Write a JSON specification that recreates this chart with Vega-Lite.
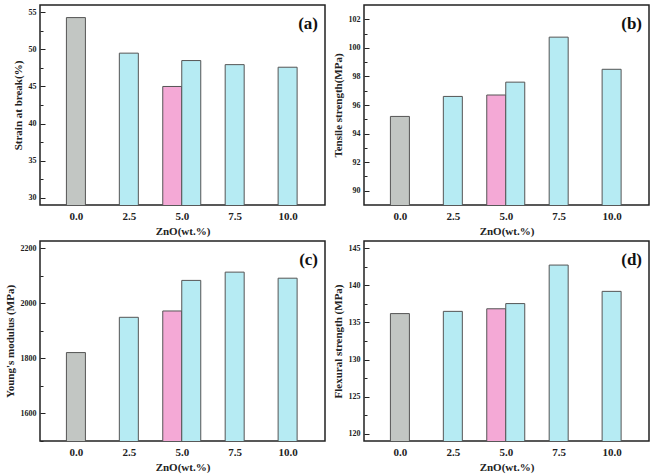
{
  "$schema": "https://vega.github.io/schema/vega-lite/v6.json",
  "padding": {"left": 3, "top": 4, "right": 5, "bottom": 5},
  "background": "white",
  "config": {
    "view": {"stroke": "#222", "strokeWidth": 1.5},
    "font": "Liberation Serif",
    "axis": {"labelFont": "Liberation Serif", "titleFont": "Liberation Serif", "labelFontWeight": "bold", "titleFontWeight": "bold", "labelColor": "#222", "titleColor": "#222", "grid": false, "domain": false, "tickColor": "#222"},
    "title": {"font": "Liberation Serif", "fontWeight": "bold", "fontSize": 17, "color": "#111"}
  },
  "datasets": {
    "props": [
      {"panel": "a", "ZnO": 0, "type": "neat", "value": 54.3},
      {"panel": "a", "ZnO": 2.5, "type": "cyan", "value": 49.5},
      {"panel": "a", "ZnO": 5, "type": "pink", "value": 45.0},
      {"panel": "a", "ZnO": 5, "type": "cyan", "value": 48.5},
      {"panel": "a", "ZnO": 7.5, "type": "cyan", "value": 47.95},
      {"panel": "a", "ZnO": 10, "type": "cyan", "value": 47.6},
      {"panel": "b", "ZnO": 0, "type": "neat", "value": 95.2},
      {"panel": "b", "ZnO": 2.5, "type": "cyan", "value": 96.6},
      {"panel": "b", "ZnO": 5, "type": "pink", "value": 96.7},
      {"panel": "b", "ZnO": 5, "type": "cyan", "value": 97.6},
      {"panel": "b", "ZnO": 7.5, "type": "cyan", "value": 100.75},
      {"panel": "b", "ZnO": 10, "type": "cyan", "value": 98.5},
      {"panel": "c", "ZnO": 0, "type": "neat", "value": 1821},
      {"panel": "c", "ZnO": 2.5, "type": "cyan", "value": 1949},
      {"panel": "c", "ZnO": 5, "type": "pink", "value": 1972},
      {"panel": "c", "ZnO": 5, "type": "cyan", "value": 2083},
      {"panel": "c", "ZnO": 7.5, "type": "cyan", "value": 2113},
      {"panel": "c", "ZnO": 10, "type": "cyan", "value": 2091},
      {"panel": "d", "ZnO": 0, "type": "neat", "value": 136.2},
      {"panel": "d", "ZnO": 2.5, "type": "cyan", "value": 136.5},
      {"panel": "d", "ZnO": 5, "type": "pink", "value": 136.85},
      {"panel": "d", "ZnO": 5, "type": "cyan", "value": 137.55},
      {"panel": "d", "ZnO": 7.5, "type": "cyan", "value": 142.75},
      {"panel": "d", "ZnO": 10, "type": "cyan", "value": 139.2}
    ]
  },
  "columns": 2,
  "bounds": "flush",
  "spacing": {"row": 36, "column": 39},
  "concat": [
        {
          "width": 285, "height": 200,
          "data": {"name": "props"},
          "title": {"text": "(a)", "anchor": "end", "frame": "group", "offset": -28, "dx": -7},
          "transform": [{"filter": "datum.panel == 'a'"}],
          "encoding": {
            "x": {"field": "ZnO", "type": "quantitative", "scale": {"domain": [-1.46, 11.53], "nice": false, "zero": false}, "axis": {"values": [0, 2.5, 5, 7.5, 10], "format": ".1f", "ticks": false, "labelPadding": 5, "labelFontSize": 11, "title": "ZnO(wt.%)", "titleFontSize": 11, "titlePadding": 4}},
            "y": {"field": "value", "type": "quantitative", "scale": {"domain": [29, 56], "nice": false, "zero": false}}
          },
          "layer": [
            {"transform": [{"filter": "datum.type != 'pink' && datum.ZnO != 5"}], "mark": {"type": "bar", "width": 19, "stroke": "#555", "strokeWidth": 1, "clip": true},
             "encoding": {"y": {"field": "value", "type": "quantitative", "axis": {"orient": "left", "values": [30, 35, 40, 45, 50, 55], "tickSize": -5, "labelPadding": 9, "labelFontSize": 8, "title": "Strain at break(%)", "titleFontSize": 11, "titlePadding": 5}},
                          "color": {"field": "type", "scale": {"domain": ["neat", "cyan", "pink"], "range": ["#c2c6c3", "#b6ebf3", "#f4a9d6"]}, "legend": null}}},
            {"transform": [{"filter": "datum.type == 'pink'"}], "mark": {"type": "bar", "width": 19, "stroke": "#555", "strokeWidth": 1, "clip": true, "xOffset": -9.5},
             "encoding": {"y": {"field": "value", "type": "quantitative", "axis": null}, "color": {"field": "type", "legend": null}}},
            {"transform": [{"filter": "datum.type == 'cyan' && datum.ZnO == 5"}], "mark": {"type": "bar", "width": 19, "stroke": "#555", "strokeWidth": 1, "clip": true, "xOffset": 9.5},
             "encoding": {"y": {"field": "value", "type": "quantitative", "axis": null}, "color": {"field": "type", "legend": null}}},
            {"mark": {"type": "point", "opacity": 0},
             "encoding": {"y": {"field": "value", "type": "quantitative", "axis": {"orient": "left", "values": [32.5, 37.5, 42.5, 47.5, 52.5], "tickSize": -3, "labels": false, "title": null}}}}
          ],
          "resolve": {"axis": {"y": "independent"}}
        },
        {
          "width": 285, "height": 200,
          "data": {"name": "props"},
          "title": {"text": "(b)", "anchor": "end", "frame": "group", "offset": -28, "dx": -7},
          "transform": [{"filter": "datum.panel == 'b'"}],
          "encoding": {
            "x": {"field": "ZnO", "type": "quantitative", "scale": {"domain": [-1.46, 11.53], "nice": false, "zero": false}, "axis": {"values": [0, 2.5, 5, 7.5, 10], "format": ".1f", "ticks": false, "labelPadding": 5, "labelFontSize": 11, "title": "ZnO(wt.%)", "titleFontSize": 11, "titlePadding": 4}},
            "y": {"field": "value", "type": "quantitative", "scale": {"domain": [89, 103], "nice": false, "zero": false}}
          },
          "layer": [
            {"transform": [{"filter": "datum.type != 'pink' && datum.ZnO != 5"}], "mark": {"type": "bar", "width": 19, "stroke": "#555", "strokeWidth": 1, "clip": true},
             "encoding": {"y": {"field": "value", "type": "quantitative", "axis": {"orient": "left", "values": [90, 92, 94, 96, 98, 100, 102], "tickSize": -5, "labelPadding": 9, "labelFontSize": 8, "title": "Tensile strength(MPa)", "titleFontSize": 11, "titlePadding": 5}},
                          "color": {"field": "type", "scale": {"domain": ["neat", "cyan", "pink"], "range": ["#c2c6c3", "#b6ebf3", "#f4a9d6"]}, "legend": null}}},
            {"transform": [{"filter": "datum.type == 'pink'"}], "mark": {"type": "bar", "width": 19, "stroke": "#555", "strokeWidth": 1, "clip": true, "xOffset": -9.5},
             "encoding": {"y": {"field": "value", "type": "quantitative", "axis": null}, "color": {"field": "type", "legend": null}}},
            {"transform": [{"filter": "datum.type == 'cyan' && datum.ZnO == 5"}], "mark": {"type": "bar", "width": 19, "stroke": "#555", "strokeWidth": 1, "clip": true, "xOffset": 9.5},
             "encoding": {"y": {"field": "value", "type": "quantitative", "axis": null}, "color": {"field": "type", "legend": null}}},
            {"mark": {"type": "point", "opacity": 0},
             "encoding": {"y": {"field": "value", "type": "quantitative", "axis": {"orient": "left", "values": [91, 93, 95, 97, 99, 101], "tickSize": -3, "labels": false, "title": null}}}}
          ],
          "resolve": {"axis": {"y": "independent"}}
        },
        {
          "width": 285, "height": 200,
          "data": {"name": "props"},
          "title": {"text": "(c)", "anchor": "end", "frame": "group", "offset": -28, "dx": -7},
          "transform": [{"filter": "datum.panel == 'c'"}],
          "encoding": {
            "x": {"field": "ZnO", "type": "quantitative", "scale": {"domain": [-1.46, 11.53], "nice": false, "zero": false}, "axis": {"values": [0, 2.5, 5, 7.5, 10], "format": ".1f", "ticks": false, "labelPadding": 5, "labelFontSize": 11, "title": "ZnO(wt.%)", "titleFontSize": 11, "titlePadding": 4}},
            "y": {"field": "value", "type": "quantitative", "scale": {"domain": [1500, 2226], "nice": false, "zero": false}}
          },
          "layer": [
            {"transform": [{"filter": "datum.type != 'pink' && datum.ZnO != 5"}], "mark": {"type": "bar", "width": 19, "stroke": "#555", "strokeWidth": 1, "clip": true},
             "encoding": {"y": {"field": "value", "type": "quantitative", "axis": {"orient": "left", "values": [1600, 1800, 2000, 2200], "format": "d", "tickSize": -5, "labelPadding": 9, "labelFontSize": 8, "title": "Young's modulus (MPa)", "titleFontSize": 11, "titlePadding": 5}},
                          "color": {"field": "type", "scale": {"domain": ["neat", "cyan", "pink"], "range": ["#c2c6c3", "#b6ebf3", "#f4a9d6"]}, "legend": null}}},
            {"transform": [{"filter": "datum.type == 'pink'"}], "mark": {"type": "bar", "width": 19, "stroke": "#555", "strokeWidth": 1, "clip": true, "xOffset": -9.5},
             "encoding": {"y": {"field": "value", "type": "quantitative", "axis": null}, "color": {"field": "type", "legend": null}}},
            {"transform": [{"filter": "datum.type == 'cyan' && datum.ZnO == 5"}], "mark": {"type": "bar", "width": 19, "stroke": "#555", "strokeWidth": 1, "clip": true, "xOffset": 9.5},
             "encoding": {"y": {"field": "value", "type": "quantitative", "axis": null}, "color": {"field": "type", "legend": null}}},
            {"mark": {"type": "point", "opacity": 0},
             "encoding": {"y": {"field": "value", "type": "quantitative", "axis": {"orient": "left", "values": [1500, 1700, 1900, 2100], "tickSize": -3, "labels": false, "title": null}}}}
          ],
          "resolve": {"axis": {"y": "independent"}}
        },
        {
          "width": 285, "height": 200,
          "data": {"name": "props"},
          "title": {"text": "(d)", "anchor": "end", "frame": "group", "offset": -28, "dx": -7},
          "transform": [{"filter": "datum.panel == 'd'"}],
          "encoding": {
            "x": {"field": "ZnO", "type": "quantitative", "scale": {"domain": [-1.46, 11.53], "nice": false, "zero": false}, "axis": {"values": [0, 2.5, 5, 7.5, 10], "format": ".1f", "ticks": false, "labelPadding": 5, "labelFontSize": 11, "title": "ZnO(wt.%)", "titleFontSize": 11, "titlePadding": 4}},
            "y": {"field": "value", "type": "quantitative", "scale": {"domain": [119, 146], "nice": false, "zero": false}}
          },
          "layer": [
            {"transform": [{"filter": "datum.type != 'pink' && datum.ZnO != 5"}], "mark": {"type": "bar", "width": 19, "stroke": "#555", "strokeWidth": 1, "clip": true},
             "encoding": {"y": {"field": "value", "type": "quantitative", "axis": {"orient": "left", "values": [120, 125, 130, 135, 140, 145], "tickSize": -5, "labelPadding": 9, "labelFontSize": 8, "title": "Flexural strength (MPa)", "titleFontSize": 11, "titlePadding": 5}},
                          "color": {"field": "type", "scale": {"domain": ["neat", "cyan", "pink"], "range": ["#c2c6c3", "#b6ebf3", "#f4a9d6"]}, "legend": null}}},
            {"transform": [{"filter": "datum.type == 'pink'"}], "mark": {"type": "bar", "width": 19, "stroke": "#555", "strokeWidth": 1, "clip": true, "xOffset": -9.5},
             "encoding": {"y": {"field": "value", "type": "quantitative", "axis": null}, "color": {"field": "type", "legend": null}}},
            {"transform": [{"filter": "datum.type == 'cyan' && datum.ZnO == 5"}], "mark": {"type": "bar", "width": 19, "stroke": "#555", "strokeWidth": 1, "clip": true, "xOffset": 9.5},
             "encoding": {"y": {"field": "value", "type": "quantitative", "axis": null}, "color": {"field": "type", "legend": null}}},
            {"mark": {"type": "point", "opacity": 0},
             "encoding": {"y": {"field": "value", "type": "quantitative", "axis": {"orient": "left", "values": [122.5, 127.5, 132.5, 137.5, 142.5], "tickSize": -3, "labels": false, "title": null}}}}
          ],
          "resolve": {"axis": {"y": "independent"}}
        }
  ]
}
